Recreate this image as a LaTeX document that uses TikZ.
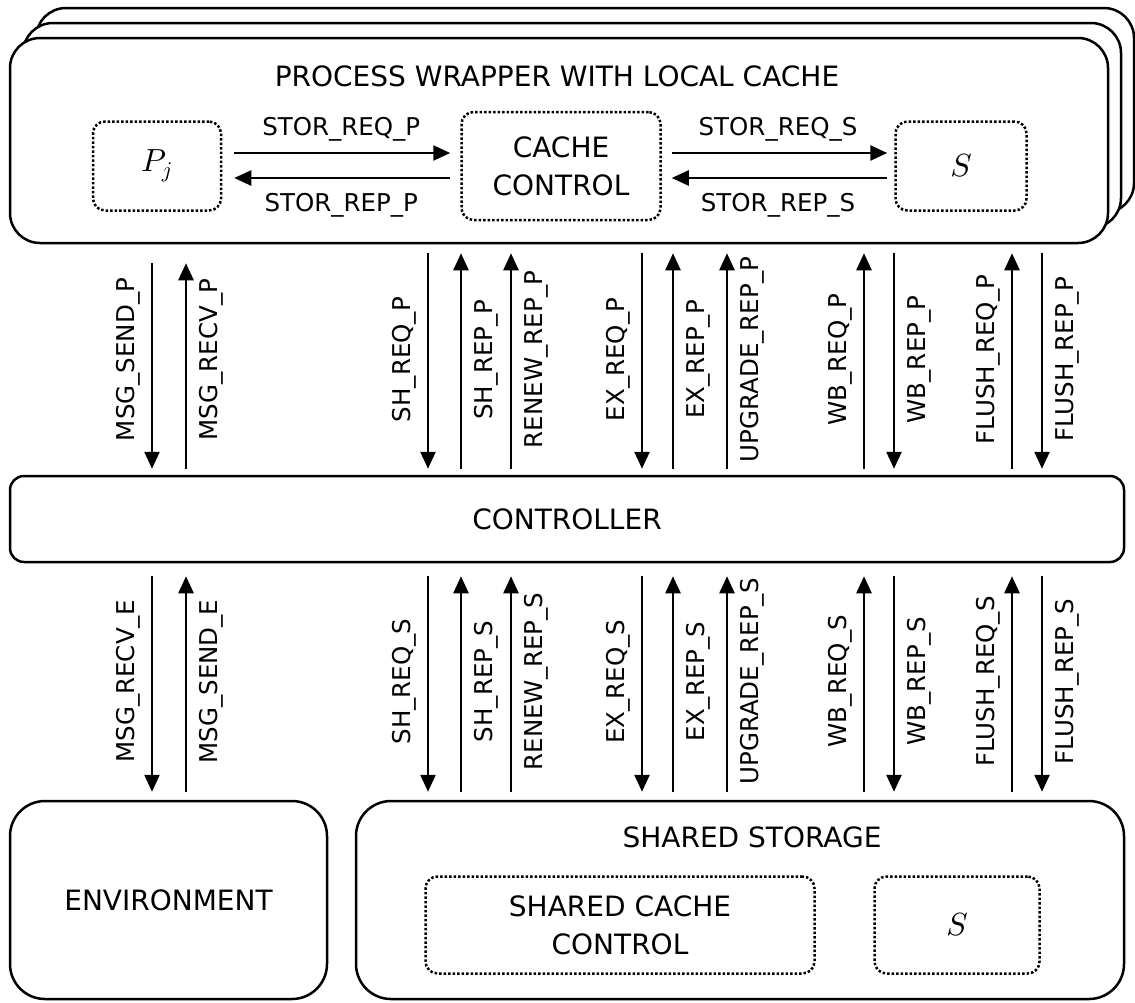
\documentclass[tikz,border=0pt]{standalone}
\usepackage{fontspec}
\setmainfont{DejaVu Sans}
\DeclareFontShape{OML}{cmm}{m}{it}{<->cmmi10}{}
\usetikzlibrary{arrows.meta, positioning, calc}

\begin{document}
\begin{tikzpicture}[
  x=1pt, y=-1pt,
  font=\fontsize{28}{38}\selectfont,
  bigbox/.style={rectangle, draw, line width=2.5pt, fill=white, rounded corners=30pt, align=center},
  ctrlbox/.style={bigbox, rounded corners=14pt},
  dotbox/.style={rectangle, draw, dotted, line width=2.5pt, rounded corners=12pt, align=center},
  mathbox/.style={dotbox, font=\fontsize{32}{38}\selectfont},
  sigdown/.style={-{Triangle[length=17pt, width=15pt]}, line width=2.5pt},
  sigup/.style={{Triangle[length=17pt, width=15pt]}-, line width=2.5pt},
  siglabel/.style={font=\fontsize{24.5}{28}\selectfont, inner sep=2pt},
  leftlab/.style={siglabel, midway, xshift=-8pt, rotate=90, anchor=south},
  rightlab/.style={siglabel, midway, xshift=10pt, rotate=90, anchor=north}
]
\useasboundingbox (0,0) rectangle (1135,1002);

% stacked process wrappers, back to front
\node[bigbox, minimum width=1098pt, minimum height=205pt] (wrapper3) at (585,110.5) {};
\node[bigbox, minimum width=1098pt, minimum height=205pt] (wrapper2) at (572,125.5) {};
\node[bigbox, minimum width=1098pt, minimum height=205pt] (wrapper) at (559,140.5) {};
\node (wraptitle) at (557,76) {PROCESS WRAPPER WITH LOCAL CACHE};

\node[mathbox, minimum width=128pt, minimum height=89pt] (pj) at (157,166) {$P_j$};
\node[dotbox, minimum width=199pt, minimum height=108pt] (cache) at (561,166) {CACHE\\CONTROL};
\node[mathbox, minimum width=131pt, minimum height=89pt] (store) at (961,166) {$S$};

\draw[sigdown, shorten <=12pt, shorten >=10pt] ([yshift=13pt]pj.east) -- node[siglabel, above=8pt] {STOR\_REQ\_P} ([yshift=13pt]cache.west);
\draw[sigup, shorten <=12pt, shorten >=10pt] ([yshift=-12pt]pj.east) -- node[siglabel, below=12pt] {STOR\_REP\_P} ([yshift=-12pt]cache.west);
\draw[sigdown, shorten <=10pt, shorten >=7pt] ([yshift=13pt]cache.east) -- node[siglabel, above=8pt] {STOR\_REQ\_S} ([yshift=13pt]store.west);
\draw[sigup, shorten <=10pt, shorten >=7pt] ([yshift=-12pt]cache.east) -- node[siglabel, below=12pt] {STOR\_REP\_S} ([yshift=-12pt]store.west);

% controller
\node[ctrlbox, minimum width=1114pt, minimum height=86pt] (controller) at (567,519) {CONTROLLER};

% environment and shared storage
\node[bigbox, rounded corners=35pt, minimum width=317pt, minimum height=198pt] (env) at (168.5,900) {ENVIRONMENT};
\node[bigbox, rounded corners=35pt, minimum width=768pt, minimum height=198pt] (shared) at (740,900) {};
\node (sharedtitle) at (752,837) {SHARED STORAGE};
\node[dotbox, minimum width=389pt, minimum height=97pt] (sharedcache) at (620,925) {SHARED CACHE\\CONTROL};
\node[mathbox, minimum width=165pt, minimum height=97pt] (sharedstore) at (957,925) {$S$};

% signals between the layers
\foreach \x/\dir/\side/\lo/\sh/\toplab/\botlab [count=\i] in {
    152/sigdown/leftlab/env/19/MSG\_SEND\_P/MSG\_RECV\_E,
    186/sigup/rightlab/env/19/MSG\_RECV\_P/MSG\_SEND\_E,
    428/sigdown/leftlab/shared/9/SH\_REQ\_P/SH\_REQ\_S,
    461/sigup/rightlab/shared/9/SH\_REP\_P/SH\_REP\_S,
    511/sigup/rightlab/shared/9/RENEW\_REP\_P/RENEW\_REP\_S,
    642/sigdown/leftlab/shared/9/EX\_REQ\_P/EX\_REQ\_S,
    673/sigup/rightlab/shared/9/EX\_REP\_P/EX\_REP\_S,
    727/sigup/rightlab/shared/9/UPGRADE\_REP\_P/UPGRADE\_REP\_S,
    864/sigup/leftlab/shared/9/WB\_REQ\_P/WB\_REQ\_S,
    894/sigdown/rightlab/shared/9/WB\_REP\_P/WB\_REP\_S,
    1012/sigup/leftlab/shared/9/FLUSH\_REQ\_P/FLUSH\_REQ\_S,
    1042/sigdown/rightlab/shared/9/FLUSH\_REP\_P/FLUSH\_REP\_S} {
  \coordinate (col\i) at (\x,0);
  \draw[\dir, shorten <=\sh pt, shorten >=6pt] (wrapper.south -| col\i) -- node[\side] {\toplab} (controller.north -| col\i);
  \draw[\dir, shorten <=13pt, shorten >=8pt] (controller.south -| col\i) -- node[\side] {\botlab} (\lo.north -| col\i);
}

\end{tikzpicture}
\end{document}
